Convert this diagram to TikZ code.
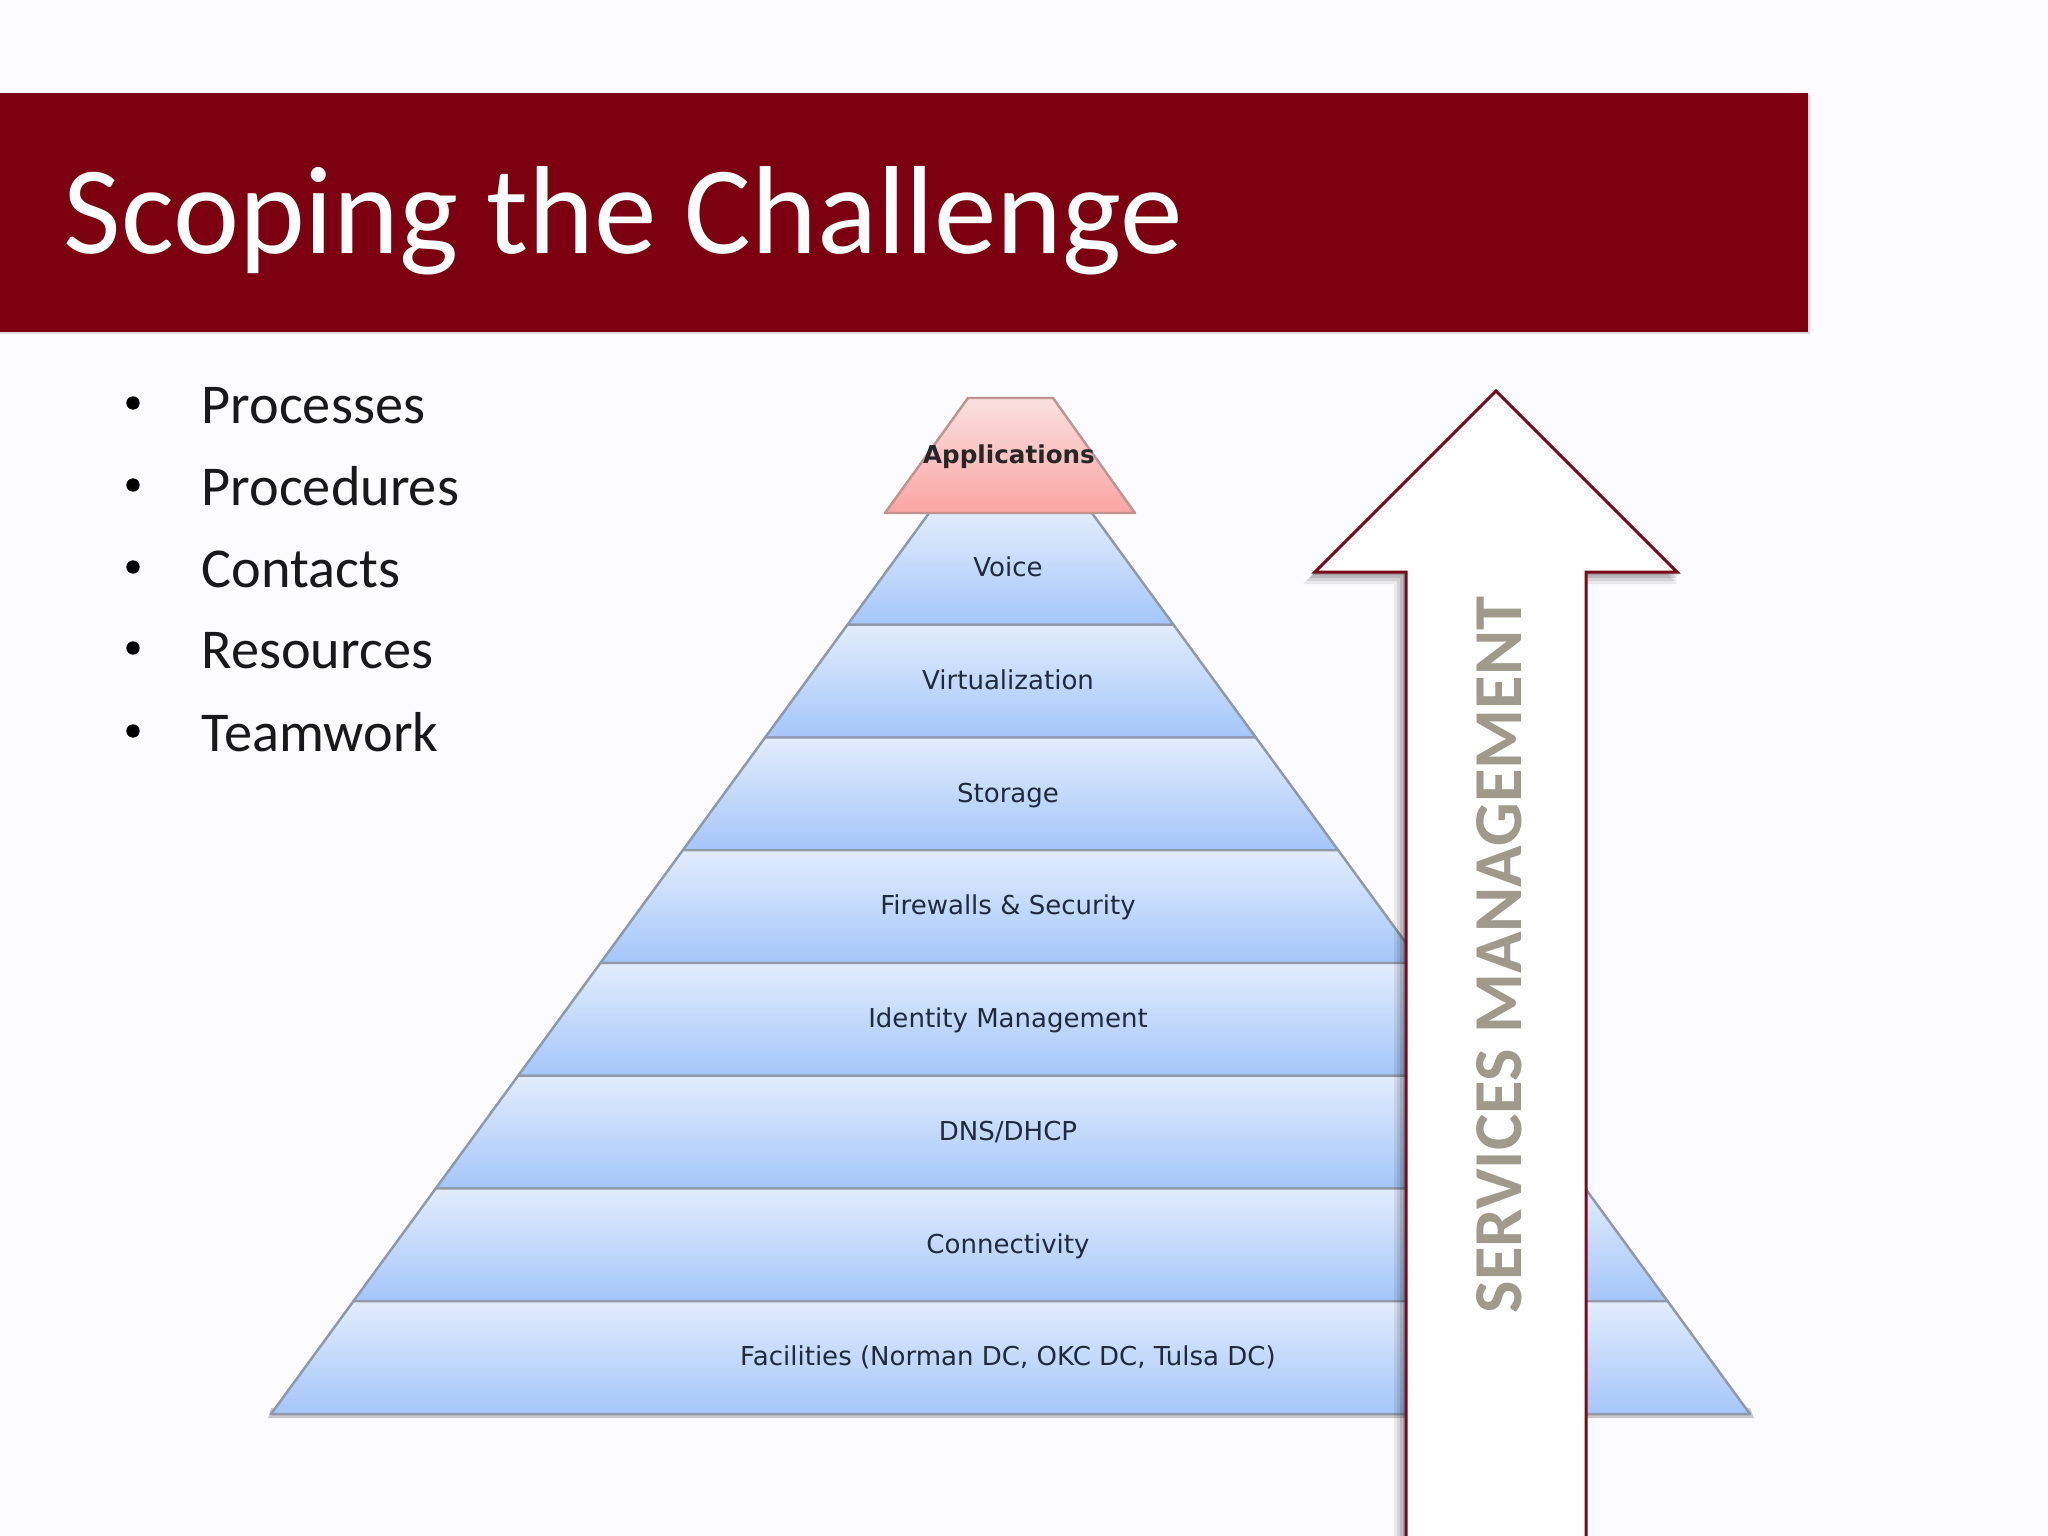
\documentclass[tikz,border=0pt]{standalone}
\usepackage{fontspec}
\setmainfont{Carlito}
\newfontfamily\labelfont{DejaVu Sans}
\usepackage{tikz}
\usetikzlibrary{calc,positioning}
\definecolor{banner}{HTML}{7C0010}
\definecolor{arrowred}{HTML}{7A0A1C}
\definecolor{taupe}{HTML}{9F9A8C}
\definecolor{layertop}{HTML}{E2ECFC}
\definecolor{layerbottom}{HTML}{A4C6FA}
\definecolor{layeredge}{HTML}{8F99AB}
\definecolor{apptop}{HTML}{FBE0E0}
\definecolor{appbottom}{HTML}{F9A5A3}
\definecolor{appedge}{HTML}{C09490}
\definecolor{labeltext}{HTML}{1F2A3A}
\tikzset{
	layer/.style={top color=layertop, bottom color=layerbottom, draw=layeredge, line width=0.7pt, line join=round},
	applayer/.style={top color=apptop, bottom color=appbottom, draw=appedge, line width=0.7pt, line join=round},
	layerlabel/.style={font=\labelfont\fontsize{7.4}{9}\selectfont, text=labeltext, anchor=base, inner sep=0pt},
	bullet/.style={font=\fontsize{16}{19}\selectfont, text=black!90, anchor=base west, inner sep=0pt},
	dot/.style={circle, fill=black, inner sep=0pt, minimum size=3.8pt}
}
\begin{document}
\begin{tikzpicture}[x=0.01cm,y=-0.01cm]
	\useasboundingbox (0,0) rectangle (2048,1536);
	\fill[white!99!blue] (0,0) rectangle (2048,1536);
	
	% banner
	\fill[black,opacity=0.12] (0,95) rectangle (1810,334);
	\fill[banner] (0,93) rectangle (1808,332);
	\node[anchor=base west,inner sep=0pt,text=white,font=\fontsize{35.6}{40}\selectfont] (title) at (63,253) {Scoping the Challenge};
	
	% list
	\foreach \i/\yy/\txt in {1/405/Processes,2/487/Procedures,3/569/Contacts,4/650/Resources,5/733/Teamwork}{
		\node[dot] (dot\i) at (133,\yy-2) {};
		\node[bullet] (item\i) at (201,\yy+18) {\txt};
	}
	
	% pyramid
	\begin{scope}
		\fill[black,opacity=0.2] (268,1418) -- (1754,1418) -- (1750,1408) -- (271,1408) -- cycle;
		\foreach \i/\txt in {0/Voice,1/Virtualization,2/Storage,3/Firewalls \& Security,4/Identity Management,5/DNS\slash DHCP,6/Connectivity,7/{Facilities (Norman DC, OKC DC, Tulsa DC)}}{
			\pgfmathsetmacro{\ya}{512+112.75*\i}
			\pgfmathsetmacro{\yb}{\ya+112.75}
			\pgfmathsetmacro{\wa}{81.4+0.7304*(\ya-513)}
			\pgfmathsetmacro{\wb}{81.4+0.7304*(\yb-513)}
			\path[layer] (1010.5-\wa,\ya) -- (1010.5+\wa,\ya) -- (1010.5+\wb,\yb) -- (1010.5-\wb,\yb) -- cycle;
			\node[layerlabel] (layer\i) at (1008,\ya+64.5) {\txt};
		}
		\path[applayer] (968,398) -- (1053,398) -- (1135,513) -- (885,513) -- cycle;
		\node[layerlabel,text=black!85,font=\labelfont\bfseries\fontsize{7}{9}\selectfont] (apps) at (1009,463) {Applications};
	\end{scope}
	
	% arrow
	\foreach \d/\o in {12/0.07,9/0.09,6/0.12,3/0.15}{
		\fill[black,opacity=\o] (1406-\d,1536) -- (1406-\d,572+\d) -- (1315-\d,572+\d) -- (1496,391) -- (1677,572+\d) -- (1586,572+\d) -- (1586,1536) -- cycle;
	}
	\coordinate (tip) at (1496,391);
	\filldraw[fill=white,draw=arrowred,line width=0.85pt,miter limit=10] (1406,1545) -- (1406,572) -- (1315,572) -- (tip) -- (1677,572) -- (1586,572) -- (1586,1545);
	\node[rotate=90,anchor=base,inner sep=0pt,text=taupe,font=\bfseries\fontsize{19.5}{24}\selectfont] (services) at (1521,955) {SERVICES MANAGEMENT};
\end{tikzpicture}
\end{document}
